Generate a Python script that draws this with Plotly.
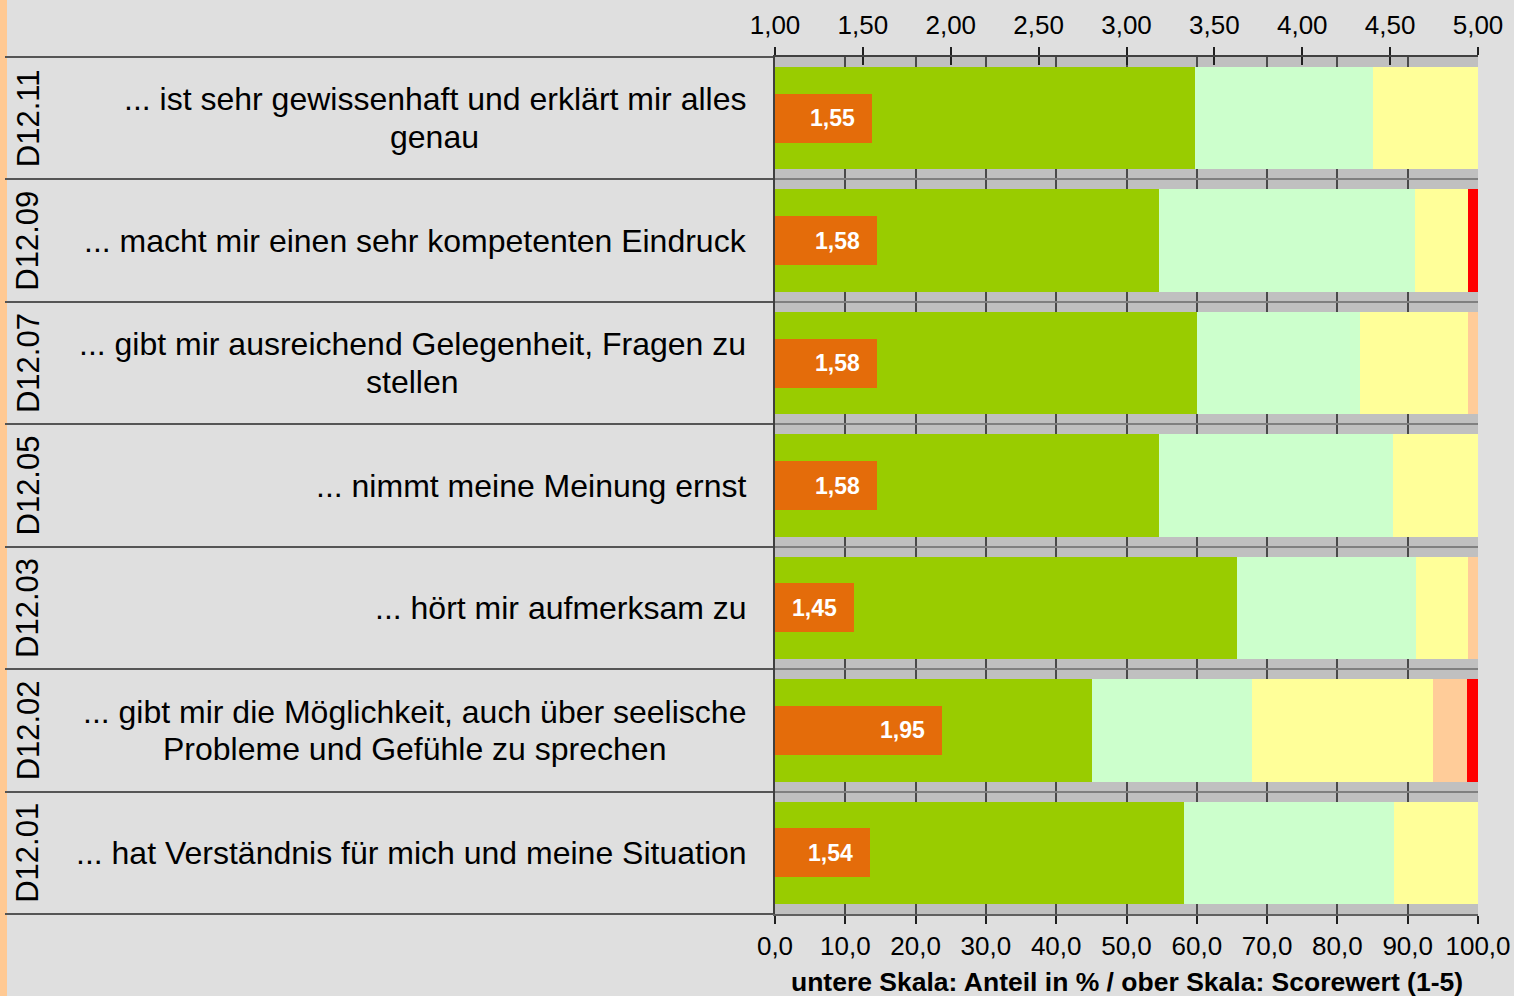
import plotly.graph_objects as go

# ---------------- data ----------------
codes = ["D12.11", "D12.09", "D12.07", "D12.05", "D12.03", "D12.02", "D12.01"]
labels = [
    "... ist sehr gewissenhaft und erklärt mir alles<br>genau",
    "... macht mir einen sehr kompetenten Eindruck",
    "... gibt mir ausreichend Gelegenheit, Fragen zu<br>stellen",
    "... nimmt meine Meinung ernst",
    "... hört mir aufmerksam zu",
    "... gibt mir die Möglichkeit, auch über seelische<br>Probleme und Gefühle zu sprechen",
    "... hat Verständnis für mich und meine Situation",
]
s1 = [59.7, 54.6, 60.0, 54.6, 65.7, 45.1, 58.2]   # green
s2 = [25.4, 36.4, 23.2, 33.3, 25.5, 22.7, 29.9]   # light green
s3 = [14.9, 7.6, 15.4, 12.1, 7.4, 25.8, 11.9]     # yellow
s4 = [0.0, 0.0, 1.4, 0.0, 1.4, 4.8, 0.0]          # peach
s5 = [0.0, 1.4, 0.0, 0.0, 0.0, 1.6, 0.0]          # red
means = [1.55, 1.58, 1.58, 1.58, 1.45, 1.95, 1.54]

pct_ticks = [0, 10, 20, 30, 40, 50, 60, 70, 80, 90, 100]
pct_ticktext = ["0,0", "10,0", "20,0", "30,0", "40,0", "50,0", "60,0", "70,0", "80,0", "90,0", "100,0"]
score_ticks = [1.0, 1.5, 2.0, 2.5, 3.0, 3.5, 4.0, 4.5, 5.0]
score_ticktext = ["1,00", "1,50", "2,00", "2,50", "3,00", "3,50", "4,00", "4,50", "5,00"]
x_title = "untere Skala: Anteil in % / ober Skala: Scorewert (1-5)"

# ---------------- style ----------------
FONT = "Liberation Sans, Arial, sans-serif"
W, H = 1514, 996
ML, MR, MT, MB = 775, 36, 57, 82
PW = W - ML - MR
PH = H - MT - MB
seg_colors = ["#99cc00", "#ccffcc", "#ffff99", "#ffcc99", "#ff0000"]
mean_color = "#e46c0a"
LABEL_SIZE = 32
LINE_STEP = 37.7          # px between the two lines of a wrapped label
LABEL_RIGHT = -26         # px offset of label block from plot's left edge
ANN_PAD = 3               # annotation box padding (px) for right-anchored text

# Arial / Liberation Sans advance widths (1/1000 em) for centring wrapped lines
_AW = {' ': 278, '.': 278, ',': 278, '-': 333, 'a': 556, 'b': 556, 'c': 500, 'd': 556,
       'e': 556, 'f': 278, 'g': 556, 'h': 556, 'i': 222, 'j': 222, 'k': 500, 'l': 222,
       'm': 833, 'n': 556, 'o': 556, 'p': 556, 'q': 556, 'r': 333, 's': 500, 't': 278,
       'u': 556, 'v': 500, 'w': 722, 'x': 500, 'y': 500, 'z': 500, 'ä': 556, 'ö': 556,
       'ü': 556, 'F': 611, 'G': 778, 'M': 833, 'P': 667, 'E': 667, 'S': 667, 'V': 667}


def text_width(s, size):
    return sum(_AW.get(ch, 556) for ch in s) * size / 1000.0


ypos = list(range(len(codes)))

fig = go.Figure()
for vals, col in zip([s1, s2, s3, s4, s5], seg_colors):
    fig.add_trace(go.Bar(
        x=vals, y=ypos, orientation="h", width=0.837,
        marker=dict(color=col, line=dict(width=0)),
        xaxis="x", yaxis="y", showlegend=False, hoverinfo="x",
    ))

fig.add_trace(go.Bar(
    x=[m - 1 for m in means], y=ypos, base=1, orientation="h", width=0.40,
    marker=dict(color=mean_color, line=dict(width=0)),
    xaxis="x2", yaxis="y", showlegend=False, hoverinfo="skip",
))

annotations = []
for i, m in enumerate(means):
    annotations.append(dict(
        x=m, y=i, xref="x2", yref="y", xanchor="right", yanchor="middle",
        xshift=-15, showarrow=False,
        text=("%.2f" % m).replace(".", ","),
        font=dict(family=FONT, size=23, color="white", weight="bold"),
    ))

for i, (c, lab) in enumerate(zip(codes, labels)):
    annotations.append(dict(
        x=0, y=i, xref="paper", yref="y", xanchor="center", yanchor="middle",
        xshift=-747, showarrow=False, textangle=-90, text=c,
        font=dict(family=FONT, size=31, color="black"),
    ))
    lines = lab.split("<br>")
    lfont = dict(family=FONT, size=LABEL_SIZE, color="black")
    n = len(lines)
    block_w = max(text_width(ln, LABEL_SIZE) for ln in lines)
    centre_shift = LABEL_RIGHT - ANN_PAD - block_w / 2.0
    for k, ln in enumerate(lines):
        off = ((n - 1) / 2.0 - k) * LINE_STEP
        if n == 1:
            annotations.append(dict(
                x=0, y=i, xref="paper", yref="y", xanchor="right", yanchor="middle",
                xshift=LABEL_RIGHT, showarrow=False, text=ln, font=lfont,
            ))
        else:
            annotations.append(dict(
                x=0, y=i, xref="paper", yref="y", xanchor="center", yanchor="middle",
                xshift=centre_shift, yshift=off, showarrow=False, text=ln, font=lfont,
            ))

annotations.append(dict(
    x=0.5, y=-(982 - (H - MB)) / PH, xref="paper", yref="paper",
    xanchor="center", yanchor="middle", showarrow=False, text=x_title,
    font=dict(family=FONT, size=26.5, color="black", weight="bold"),
))

shapes = [dict(
    type="rect", xref="paper", yref="paper",
    x0=-ML / PW, x1=-(ML - 7) / PW, y0=-MB / PH, y1=1 + MT / PH,
    fillcolor="#ffc993", line=dict(width=0), layer="below",
)]

boundaries = [i - 0.5 for i in range(len(codes) + 1)]

fig.update_layout(
    width=W, height=H,
    margin=dict(l=ML, r=MR, t=MT, b=MB, pad=0),
    paper_bgcolor="#dfdfdf", plot_bgcolor="#c0c0c0",
    barmode="stack", bargap=0,
    font=dict(family=FONT, color="black"),
    annotations=annotations, shapes=shapes,
    xaxis=dict(
        range=[0, 100], tickvals=pct_ticks, ticktext=pct_ticktext,
        ticks="outside", ticklen=8, tickwidth=1.5, tickcolor="#202020",
        showgrid=True, gridcolor="#4a4a4a", gridwidth=1.5,
        showline=True, linecolor="#606060", linewidth=2,
        zeroline=False, tickfont=dict(family=FONT, size=26, color="black"),
        ticklabelstandoff=0, fixedrange=True, automargin=False,
    ),
    xaxis2=dict(
        range=[1, 5], overlaying="x", side="top", anchor="y",
        tickvals=score_ticks, ticktext=score_ticktext,
        ticks="outside", ticklen=8, tickwidth=1.5, tickcolor="#202020",
        showgrid=False, showline=True, linecolor="#404040", linewidth=2,
        zeroline=False, tickfont=dict(family=FONT, size=26, color="black"),
        ticklabelstandoff=3, fixedrange=True, automargin=False,
    ),
    xaxis3=dict(
        range=[1, 5], overlaying="x", side="top", anchor="y",
        tickvals=score_ticks, showticklabels=False,
        ticks="inside", ticklen=8, tickwidth=1.5, tickcolor="#202020",
        showgrid=False, showline=False, zeroline=False, fixedrange=True,
        automargin=False,
    ),
    yaxis=dict(
        range=[len(codes) - 0.5, -0.5], tickvals=boundaries,
        showticklabels=False, ticks="outside", ticklen=ML - 7,
        tickwidth=1.5, tickcolor="#555555",
        showgrid=True, gridcolor="#808080", gridwidth=2,
        showline=True, linecolor="#404040", linewidth=1.5,
        zeroline=False, fixedrange=True, automargin=False,
    ),
)
# invisible helper trace so that the inside-tick overlay axis is drawn
fig.add_trace(go.Scatter(x=[1], y=[0], xaxis="x3", yaxis="y", mode="markers",
                         marker=dict(opacity=0), showlegend=False, hoverinfo="skip"))

fig.write_html(
    "out.html",
    config={"displayModeBar": False},
    post_script="document.body.style.margin='0';document.body.style.overflow='hidden';",
)
